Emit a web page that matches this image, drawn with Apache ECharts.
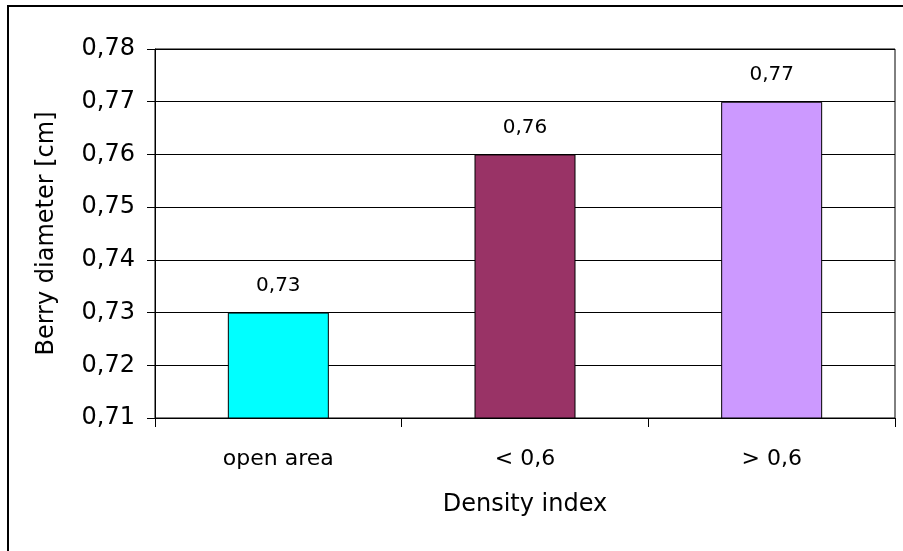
<!DOCTYPE html>
<html>
<head>
<meta charset="utf-8">
<script src="https://cdn.jsdelivr.net/npm/echarts@6/dist/echarts.min.js"></script>
<style>
html,body{margin:0;padding:0;background:#fff;}
#chart{width:903px;height:551px;}
</style>
</head>
<body>
<div id="chart"></div>
<script>
const categories = ['open area', '< 0,6', '> 0,6'];
const values = [0.73, 0.76, 0.77];
const barColors = ['#00FFFF', '#993366', '#CC99FF'];
const yMin = 0.71, yMax = 0.78, yStep = 0.01;
const xTitle = 'Density index';
const yTitle = 'Berry diameter [cm]';

const FONT = 'DejaVu Sans';
const fmt = v => Number(v).toFixed(2).replace('.', ',');

const chart = echarts.init(document.getElementById('chart'), null, {renderer: 'canvas'});
chart.setOption({
  animation: false,
  backgroundColor: '#fff',
  graphic: [{
    type: 'rect',
    shape: {x: 8, y: 6, width: 920, height: 570},
    style: {fill: 'none', stroke: '#000', lineWidth: 2},
    z: 100, silent: true
  }],
  grid: {
    left: 155, top: 49, right: 8, bottom: 133,
    show: true, borderColor: '#000', borderWidth: 1, backgroundColor: 'transparent'
  },
  xAxis: {
    type: 'category',
    data: categories,
    boundaryGap: true,
    axisLine: {lineStyle: {color: '#000', width: 1}},
    axisTick: {show: true, length: 9, alignWithLabel: false, lineStyle: {color: '#000'}},
    axisLabel: {color: '#000', fontFamily: FONT, fontSize: 22, margin: 30},
    name: xTitle,
    nameLocation: 'middle',
    nameGap: 75,
    nameTextStyle: {color: '#000', fontFamily: FONT, fontSize: 24}
  },
  yAxis: {
    type: 'value',
    min: yMin, max: yMax, interval: yStep,
    axisLine: {show: true, lineStyle: {color: '#000', width: 1}},
    axisTick: {show: true, length: 8, lineStyle: {color: '#000'}},
    splitLine: {show: true, lineStyle: {color: '#000', width: 1}},
    axisLabel: {color: '#000', fontFamily: FONT, fontSize: 24, margin: 20, formatter: fmt},
    name: yTitle,
    nameLocation: 'middle',
    nameGap: 96,
    nameTextStyle: {color: '#000', fontFamily: FONT, fontSize: 24}
  },
  series: [{
    type: 'bar',
    barWidth: 101,
    data: values.map((v, i) => ({value: v, itemStyle: {color: barColors[i]}})),
    itemStyle: {borderColor: '#000', borderWidth: 1},
    label: {
      show: true, position: 'top', distance: 17,
      color: '#000', fontFamily: FONT, fontSize: 20,
      formatter: p => fmt(p.value)
    }
  }]
});
</script>
</body>
</html>
